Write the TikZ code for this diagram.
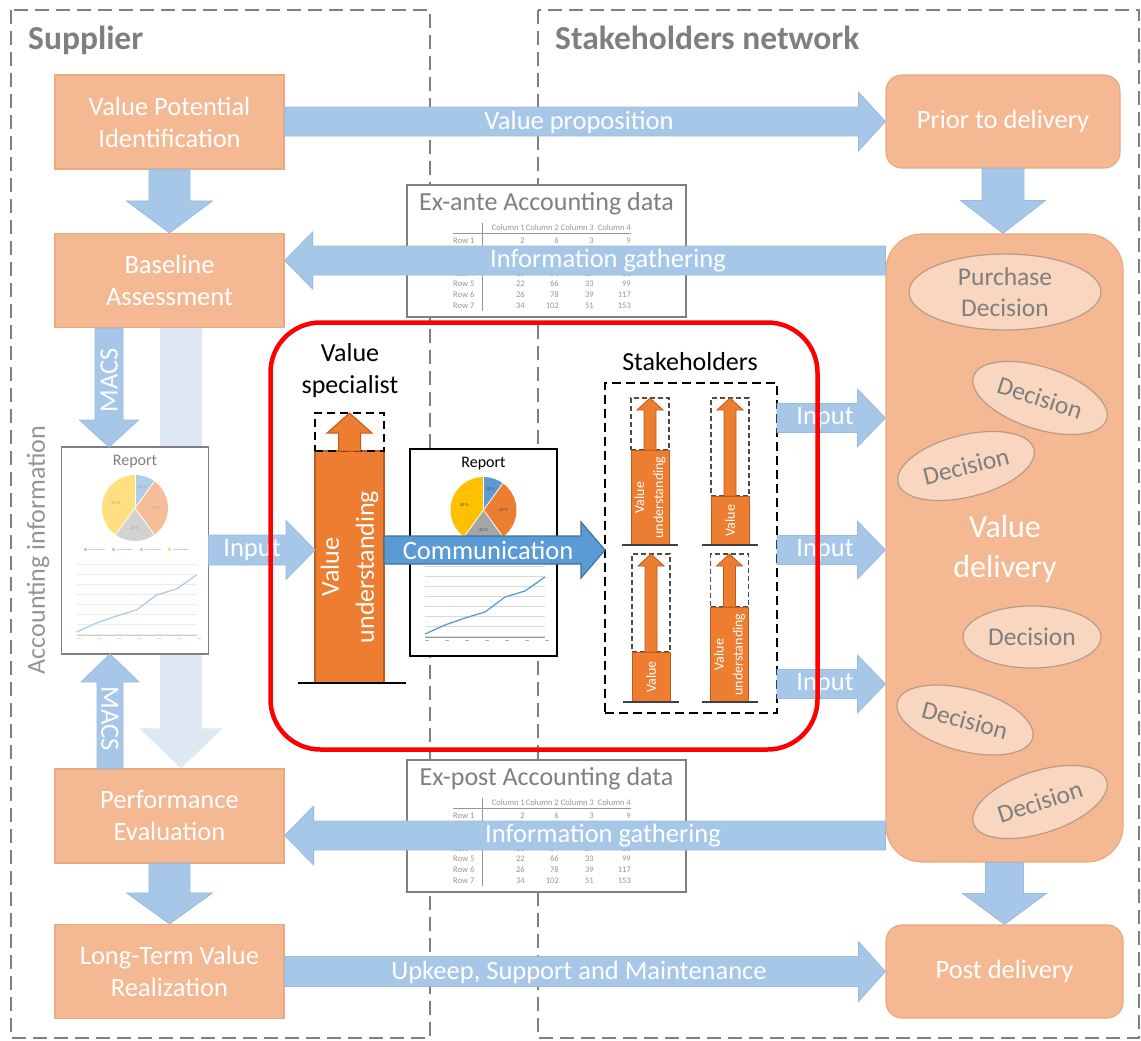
\documentclass[tikz,border=0pt]{standalone}
\usepackage{fontspec}
\setmainfont{Carlito}
\usetikzlibrary{calc,shapes.geometric}

\definecolor{zonegray}{RGB}{128,128,128}
\definecolor{lblue}{RGB}{166,199,231}
\definecolor{lblueline}{RGB}{152,188,224}
\definecolor{paleblue}{RGB}{221,232,244}
\definecolor{peach}{RGB}{244,185,146}
\definecolor{peachline}{RGB}{233,170,128}
\definecolor{cream}{RGB}{248,214,191}
\definecolor{creamline}{RGB}{185,155,135}
\definecolor{dorange}{RGB}{237,125,49}
\definecolor{dorangeline}{RGB}{190,92,30}
\definecolor{mblue}{RGB}{91,155,213}
\definecolor{mblueline}{RGB}{65,113,156}
\definecolor{pgray}{RGB}{165,165,165}
\definecolor{pyellow}{RGB}{255,192,0}
\definecolor{txtgray}{RGB}{127,127,127}
\definecolor{tblgray}{RGB}{150,150,150}

\newcommand\sizedfont[2]{\fontsize{#1}{#2}\selectfont}

% horizontal block arrow: style, start point, tip point, half shaft, half head, head length
\newcommand\hblock[6]{%
  \path[#1] let \p1=(#2), \p2=(#3), \n1={sign(\x2-\x1)} in
    ({\x1},{\y2+#4}) -- ({\x2-(\n1)*#6},{\y2+#4}) -- ({\x2-(\n1)*#6},{\y2+#5})
    -- ({\x2},{\y2}) -- ({\x2-(\n1)*#6},{\y2-#5}) -- ({\x2-(\n1)*#6},{\y2-#4})
    -- ({\x1},{\y2-#4}) -- cycle;}
% vertical block arrow: style, start point, tip point, half shaft, half head, head length
\newcommand\vblock[6]{%
  \path[#1] let \p1=(#2), \p2=(#3), \n1={sign(\y2-\y1)} in
    ({\x2+#4},{\y1}) -- ({\x2+#4},{\y2-(\n1)*#6}) -- ({\x2+#5},{\y2-(\n1)*#6})
    -- ({\x2},{\y2}) -- ({\x2-#5},{\y2-(\n1)*#6}) -- ({\x2-#4},{\y2-(\n1)*#6})
    -- ({\x2-#4},{\y1}) -- cycle;}

% accounting data sheet: name, top-left corner, title
\newcommand\accttable[3]{%
  \node[draw=zonegray, line width=1.6pt, fill=white, minimum width=279pt,
        minimum height=132pt, anchor=north west, inner sep=0pt, outer sep=0pt] (#1) at (#2) {};
  \begin{scope}[shift={(#1.north west)}]
    \node[text=txtgray, font=\sizedfont{26}{30}] (#1-title) at (139.5,19) {#3};
    \draw[tblgray, line width=0.8pt] (46,48) -- (224,48);
    \draw[tblgray, line width=0.9pt] (75,38) -- (75,126);
    \foreach \cn/\xx in {1/118,2/152,3/187,4/224}
      \node[tablecell, anchor=east] (#1-col\cn) at (\xx,43) {Column \cn};
    \foreach \rn/\yy/\va/\vb/\vc/\vd in {1/56/2/6/3/9, 4/89/18/54/27/81, 5/99/22/66/33/99,
                                         6/110/26/78/39/117, 7/121/34/102/51/153} {
      \node[tablecell, anchor=west] (#1-row\rn) at (46,\yy) {Row \rn};
      \node[tablecell, anchor=east] (#1-a\rn) at (118,\yy) {\va};
      \node[tablecell, anchor=east] (#1-b\rn) at (152,\yy) {\vb};
      \node[tablecell, anchor=east] (#1-c\rn) at (187,\yy) {\vc};
      \node[tablecell, anchor=east] (#1-d\rn) at (224,\yy) {\vd};
    }
  \end{scope}}

% report sheet with pie and line chart: name, centre
\newcommand\reportsheet[2]{%
  \node[draw=black, line width=1.4pt, fill=white, minimum width=147pt,
        minimum height=207pt, inner sep=0pt, outer sep=0pt] (#1) at (#2) {};
  \begin{scope}[shift={(#1.north west)}]
    \node[font=\sizedfont{16}{18}] (#1-title) at (73.5,15) {Report};
    \coordinate (#1-pie) at (73.5,61);
    \fill[mblue] (#1-pie) -- ++(90:33pt) arc[start angle=90,end angle=54,radius=33pt] -- cycle;
    \fill[dorange] (#1-pie) -- ++(54:33pt) arc[start angle=54,end angle=-54,radius=33pt] -- cycle;
    \fill[pgray] (#1-pie) -- ++(-54:33pt) arc[start angle=-54,end angle=-126,radius=33pt] -- cycle;
    \fill[pyellow] (#1-pie) -- ++(-126:33pt) arc[start angle=-126,end angle=-270,radius=33pt] -- cycle;
    \foreach \ang in {90,54,-54,-126} \draw[white, line width=0.8pt] (#1-pie) -- ++(\ang:33pt);
    \node[pielabel] (#1-p1) at ($(#1-pie)+(72:22pt)$) {10 \%};
    \node[pielabel] (#1-p2) at ($(#1-pie)+(0:20pt)$) {30 \%};
    \node[pielabel] (#1-p3) at ($(#1-pie)+(-90:20pt)$) {20 \%};
    \node[pielabel] (#1-p4) at ($(#1-pie)+(165:20pt)$) {40 \%};
    \foreach \k/\cl in {0/mblue,1/dorange,2/pgray,3/pyellow} {
      \fill[\cl] ({22+28*\k},101) rectangle ++(3,3);
      \draw[black!35, line width=0.6pt] ({27+28*\k},102.5) -- ++(16,0);
    }
    \foreach \g in {0,...,7} \draw[black!15, line width=0.6pt] (15,{117+10*\g}) -- (135,{117+10*\g});
    \draw[black!40, line width=0.7pt] (15,188) -- (135,188);
    \foreach \t in {0,...,6} \fill[black!30] ({15+20*\t},191) rectangle ++(4,1.2);
    \draw[mblue, line width=1.3pt] (15,185) -- (35,176) -- (55,169) -- (75,163)
      -- (95,148) -- (115,142) -- (135,128);
  \end{scope}}

% small value bar: name, centre x, bar top, base y, slot top, label
\newcommand\minibar[6]{%
  \node[smallslot, minimum height={(#3)-(#5)}] (#1-slot) at (#2,{((#3)+(#5))/2}) {};
  \node[smallbar, minimum height={(#4)-(#3)}] (#1) at (#2,{((#3)+(#4))/2}) {};
  \draw[line width=1.6pt, black!75] ($(#1.south west)+(-9,0)$) -- ($(#1.south east)+(9,0)$);
  \vblock{fill=dorange, draw=dorangeline, line width=0.8pt}{#1.north}{#1-slot.north}{6pt}{13pt}{12pt}
  \node[smalltxt, rotate=90] (#1-txt) at (#1.center) {#6};}

\begin{document}
\begin{tikzpicture}[x=1pt, y=-1pt,
  zoneframe/.style={draw=zonegray, line width=2pt, dash pattern=on 14pt off 7pt},
  zonetitle/.style={anchor=base west, inner sep=0pt, text=txtgray, font=\sizedfont{33.5}{40}\bfseries},
  stagebox/.style={fill=peach, draw=peachline, line width=1.2pt, minimum width=229pt,
    minimum height=94pt, text=white, align=center, font=\sizedfont{26.5}{32}},
  roundstage/.style={stagebox, rounded corners=16pt},
  flow/.style={fill=lblue, draw=lblueline, line width=0.8pt},
  flowtxt/.style={text=white, font=\sizedfont{26.5}{32}, inner sep=0pt},
  decision/.style={ellipse, fill=cream, draw=creamline, line width=1.2pt, text=txtgray,
    align=center, font=\sizedfont{25.5}{31}, inner sep=0pt},
  tablecell/.style={inner sep=0pt, text=tblgray, font=\sizedfont{8.5}{10}},
  pielabel/.style={inner sep=0pt, text=black!70, font=\sizedfont{4.5}{5}},
  smallbar/.style={fill=dorange, draw=dorangeline, line width=1pt, minimum width=38pt,
    inner sep=0pt, outer sep=0pt},
  smallslot/.style={draw=black!70, line width=1.1pt, dash pattern=on 5pt off 3pt,
    minimum width=38pt, inner sep=0pt, outer sep=0pt},
  smalltxt/.style={text=white, align=center, font=\sizedfont{14}{19}, inner sep=0pt},
  blacktxt/.style={text=black, align=center, font=\sizedfont{26}{32}}]

\useasboundingbox (0,0) rectangle (1141,1041);
\fill[white] (0,0) rectangle (1141,1041);

% the two zones
\draw[zoneframe] (11,10) rectangle (430,1038);
\draw[zoneframe] (538,10) rectangle (1139,1038);
\node[zonetitle] (suppliertitle) at (28,50) {Supplier};
\node[zonetitle] (networktitle) at (555,50) {Stakeholders network};

% reference lines for the arrows
\coordinate (igtop) at (0,260.5);
\coordinate (igbot) at (0,835.5);
\coordinate (midline) at (0,550);
\coordinate (in1) at (0,418);
\coordinate (in3) at (0,684);
\coordinate (bandx) at (181,0);
\coordinate (macsx) at (109,0);
\coordinate (macsy) at (110,0);

% supplier stages
\node[stagebox] (vpi) at (169.5,122) {Value Potential\\Identification};
\node[stagebox] (base) at (169.5,280.5) {Baseline\\Assessment};
\node[stagebox] (perf) at (169.5,816) {Performance\\Evaluation};
\node[stagebox] (ltv) at (169.5,971.5) {Long-Term Value\\Realization};

% stakeholder stages
\node[roundstage, minimum width=234pt, minimum height=93pt] (prior) at (1003,121.5) {Prior to delivery};
\node[roundstage, minimum width=237pt, minimum height=93pt] (post) at (1004.5,971.5) {Post delivery};
\node[roundstage, rounded corners=36pt, minimum width=237pt, minimum height=628pt] (vd) at (1004.5,548) {};

% accounting information band
\vblock{fill=paleblue}{base.south}{bandx |- perf.north}{21pt}{41.5pt}{40pt}
\node[text=black!42, font=\sizedfont{26}{30}, rotate=90, inner sep=0pt] (acctinfo) at (38,550) {Accounting information};

% accounting data sheets
\accttable{exante}{407,185}{Ex-ante Accounting data}
\accttable{expost}{407,760}{Ex-post Accounting data}

% reports
\reportsheet{repL}{135,550.5}
\fill[white, fill opacity=0.5] ($(repL.north west)+(-1,-1)$) rectangle ($(repL.south east)+(1,1)$);
\reportsheet{repM}{483.5,552.5}

% supplier flow
\vblock{flow}{vpi.south}{base.north}{20.5pt}{43pt}{32pt}
\vblock{flow}{perf.south}{ltv.north}{20.5pt}{43pt}{31pt}
\vblock{flow}{base.south}{macsx |- repL.north}{14pt}{29.5pt}{27pt}
\vblock{flow}{perf.north}{macsy |- repL.south}{13pt}{29pt}{28pt}
\node[flowtxt, rotate=90] (macs1) at (109,380) {MACS};
\node[flowtxt, rotate=-90] (macs2) at (110,719) {MACS};

% stakeholder flow
\vblock{flow}{prior.south}{prior.south |- vd.north}{21pt}{42.5pt}{33pt}
\vblock{flow}{vd.south}{post.north}{19pt}{42pt}{31pt}

% exchanges between the zones
\hblock{flow}{vpi.east}{prior.west}{14.5pt}{29.5pt}{27pt}
\node[flowtxt] (vprop) at (579,122) {Value proposition};
\hblock{flow}{vd.west |- igtop}{base.east |- igtop}{14.5pt}{28.5pt}{28pt}
\node[flowtxt] (ig1) at (608,260.5) {Information gathering};
\hblock{flow}{vd.west |- igbot}{perf.east |- igbot}{14.5pt}{29.5pt}{29pt}
\node[flowtxt] (ig2) at (603,835.5) {Information gathering};
\hblock{flow}{ltv.east}{post.west}{15pt}{30pt}{27pt}
\node[flowtxt] (upkeep) at (579,972) {Upkeep, Support and Maintenance};

% value specialist
\node[blacktxt] (vstitle) at (350,371) {Value\\specialist};
\node[fill=dorange, draw=dorangeline, line width=1.5pt, minimum width=69pt, minimum height=232pt,
      inner sep=0pt, outer sep=0pt] (vsbar) at (349.5,567) {};
\node[draw=black, line width=2pt, dash pattern=on 8pt off 5pt, minimum width=69pt, minimum height=38pt,
      inner sep=0pt, outer sep=0pt] (vsslot) at (349.5,432) {};
\draw[line width=2pt] ($(vsbar.south west)+(-17,0)$) -- ($(vsbar.south east)+(22,0)$);
\vblock{fill=dorange, draw=dorangeline, line width=1pt}{vsbar.north}{vsslot.north}{11pt}{22.5pt}{20pt}
\node[text=white, align=center, font=\sizedfont{26}{35}, rotate=90, inner sep=0pt] (vstxt) at (vsbar.center) {Value\\understanding};

% report input to the specialist
\hblock{flow}{repL.east}{vsbar.west |- midline}{15pt}{29.5pt}{29pt}
\node[flowtxt] (inputL) at (252,550) {Input};

% stakeholders
\node[blacktxt] (shtitle) at (690,362) {Stakeholders};
\node[draw=black, line width=2pt, dash pattern=on 9pt off 5pt, minimum width=172pt, minimum height=330pt,
      inner sep=0pt, outer sep=0pt] (shbox) at (691,548) {};
\minibar{sh1}{650}{450}{545}{398}{Value\\understanding}
\minibar{sh2}{730}{496}{545}{398}{Value}
\minibar{sh3}{651}{652}{702}{554}{Value}
\minibar{sh4}{729.5}{607}{702}{554}{Value\\understanding}

% communication from specialist to stakeholders
\hblock{fill=mblue, draw=mblueline, line width=1.2pt}{vsbar.east}{shbox.west |- midline}{14pt}{28pt}{24pt}
\node[flowtxt] (comm) at (488,550) {Communication};

% stakeholder input to value delivery
\hblock{flow}{shbox.east |- in1}{vd.west |- in1}{14.5pt}{29pt}{28pt}
\node[flowtxt] (input1) at (825,418) {Input};
\hblock{flow}{shbox.east |- midline}{vd.west |- midline}{14.5pt}{29pt}{28pt}
\node[flowtxt] (input2) at (825,550) {Input};
\hblock{flow}{shbox.east |- in3}{vd.west |- in3}{14.5pt}{29pt}{28pt}
\node[flowtxt] (input3) at (825,684) {Input};

% focus frame
\node[draw=red, line width=4.5pt, rounded corners=50pt, minimum width=547pt, minimum height=427pt,
      inner sep=0pt] (focus) at (544,536) {};

% decisions inside value delivery
\node[decision, minimum width=192pt, minimum height=76pt] (pd) at (1005,292) {Purchase\\Decision};
\node[decision, minimum width=140pt, minimum height=62pt, rotate=-18] (d1) at (1040,398) {Decision};
\node[decision, minimum width=140pt, minimum height=62pt, rotate=14] (d2) at (966,466) {Decision};
\node[text=white, align=center, font=\sizedfont{32}{40}, inner sep=0pt] (vdtxt) at (1005,549) {Value\\delivery};
\node[decision, minimum width=138pt, minimum height=62pt] (d3) at (1032,637) {Decision};
\node[decision, minimum width=140pt, minimum height=62pt, rotate=-15] (d4) at (965,720) {Decision};
\node[decision, minimum width=140pt, minimum height=62pt, rotate=18] (d5) at (1040,802) {Decision};

\end{tikzpicture}
\end{document}
